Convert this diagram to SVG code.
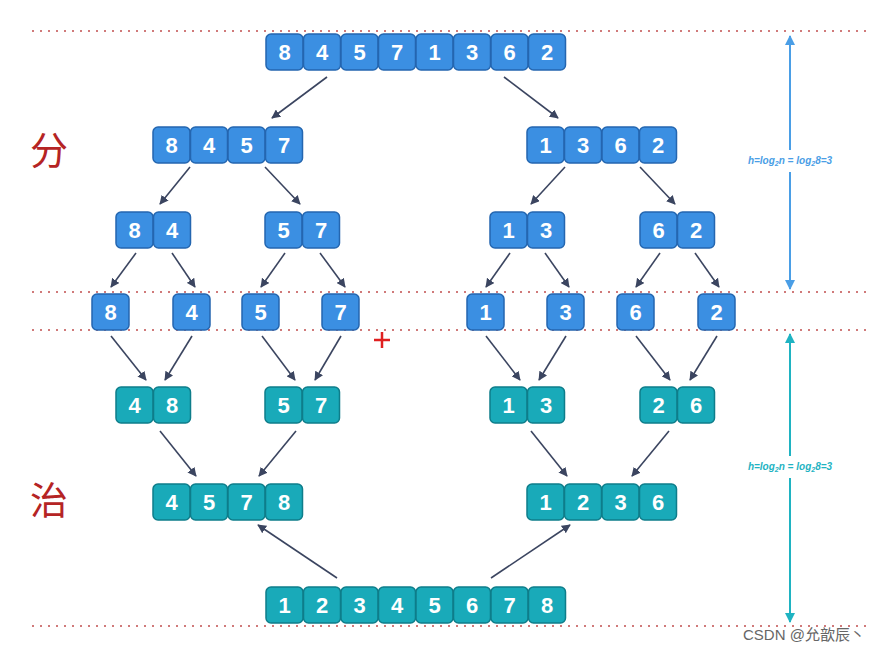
<svg xmlns="http://www.w3.org/2000/svg" width="888" height="651" viewBox="0 0 888 651">
<defs>
<style>
.b{fill:#3b8fe2;stroke:#2466b0;stroke-width:1.5}
.t{fill:#19aab9;stroke:#0e7d8a;stroke-width:1.5}
.n{font-family:"Liberation Sans",Arial,sans-serif;font-weight:bold;font-size:22px;fill:#fff;text-anchor:middle}
.dot{stroke:#d07a7a;stroke-width:2;stroke-dasharray:2 6;fill:none}
.c{stroke:#3b4560;stroke-width:1.6;fill:none;marker-end:url(#ah)}
.zh{font-family:"Noto Sans CJK SC",sans-serif;font-size:38px;fill:#b52424}
.lab{font-family:"Liberation Sans",Arial,sans-serif;font-size:10px;font-style:italic;font-weight:bold;text-anchor:middle}
</style>
<marker id="ah" viewBox="0 0 10 10" refX="9" refY="5" markerWidth="9" markerHeight="9" markerUnits="userSpaceOnUse" orient="auto"><path d="M0,0 L10,5 L0,10 z" fill="#3b4560"/></marker>
<marker id="ahb" viewBox="0 0 10 10" refX="9" refY="5" markerWidth="10" markerHeight="12" markerUnits="userSpaceOnUse" orient="auto"><path d="M0,0 L10,5 L0,10 z" fill="#4a9ee6"/></marker>
<marker id="aht" viewBox="0 0 10 10" refX="9" refY="5" markerWidth="10" markerHeight="12" markerUnits="userSpaceOnUse" orient="auto"><path d="M0,0 L10,5 L0,10 z" fill="#1fb3c2"/></marker>
</defs>
<rect width="888" height="651" fill="#fff"/>
<g id="guides">
<line class="dot" x1="32" y1="31" x2="866" y2="31"/>
<line class="dot" x1="32" y1="292" x2="866" y2="292"/>
<line class="dot" x1="32" y1="330" x2="866" y2="330"/>
<line class="dot" x1="32" y1="626" x2="866" y2="626"/>
</g>
<g id="side">
<text class="zh" x="30" y="164">分</text>
<text class="zh" x="30" y="514">治</text>
<line x1="790" y1="150" x2="790" y2="36" stroke="#4a9ee6" stroke-width="2" marker-end="url(#ahb)"/>
<line x1="790" y1="172" x2="790" y2="289" stroke="#4a9ee6" stroke-width="2" marker-end="url(#ahb)"/>
<text class="lab" x="790" y="164" fill="#4a9ee6">h=log<tspan font-size="7" dy="2">2</tspan><tspan dy="-2">n = log</tspan><tspan font-size="7" dy="2">2</tspan><tspan dy="-2">8=3</tspan></text>
<line x1="790" y1="456" x2="790" y2="334" stroke="#1fb3c2" stroke-width="2" marker-end="url(#aht)"/>
<line x1="790" y1="478" x2="790" y2="622" stroke="#1fb3c2" stroke-width="2" marker-end="url(#aht)"/>
<text class="lab" x="790" y="470" fill="#1fb3c2">h=log<tspan font-size="7" dy="2">2</tspan><tspan dy="-2">n = log</tspan><tspan font-size="7" dy="2">2</tspan><tspan dy="-2">8=3</tspan></text>
<path d="M374,340 h16 M382,332 v16" stroke="#e02020" stroke-width="2.5"/>
</g>
<g id="connectors">
<line class="c" x1="327" y1="77" x2="272" y2="118"/>
<line class="c" x1="504" y1="77" x2="558" y2="118"/>
<line class="c" x1="190" y1="167" x2="160" y2="204"/>
<line class="c" x1="265" y1="167" x2="300" y2="204"/>
<line class="c" x1="565" y1="167" x2="531" y2="204"/>
<line class="c" x1="640" y1="167" x2="675" y2="204"/>
<line class="c" x1="136" y1="253" x2="111" y2="287"/>
<line class="c" x1="172" y1="253" x2="195" y2="287"/>
<line class="c" x1="285" y1="253" x2="261" y2="287"/>
<line class="c" x1="320" y1="253" x2="345" y2="287"/>
<line class="c" x1="510" y1="253" x2="486" y2="287"/>
<line class="c" x1="545" y1="253" x2="569" y2="287"/>
<line class="c" x1="660" y1="253" x2="636" y2="287"/>
<line class="c" x1="695" y1="253" x2="719" y2="287"/>
<line class="c" x1="111" y1="336" x2="146" y2="380"/>
<line class="c" x1="192" y1="336" x2="165" y2="380"/>
<line class="c" x1="262" y1="336" x2="295" y2="380"/>
<line class="c" x1="341" y1="336" x2="315" y2="380"/>
<line class="c" x1="486" y1="336" x2="520" y2="380"/>
<line class="c" x1="566" y1="336" x2="539" y2="380"/>
<line class="c" x1="636" y1="336" x2="670" y2="380"/>
<line class="c" x1="717" y1="336" x2="690" y2="380"/>
<line class="c" x1="160" y1="431" x2="196" y2="476"/>
<line class="c" x1="296" y1="431" x2="259" y2="476"/>
<line class="c" x1="531" y1="431" x2="567" y2="476"/>
<line class="c" x1="669" y1="431" x2="632" y2="476"/>
<line class="c" x1="337" y1="578" x2="258" y2="525"/>
<line class="c" x1="491" y1="578" x2="570" y2="525"/>
</g>
<g id="n-84571362">
<rect class="b" x="266" y="34" width="37" height="36" rx="5"/><text class="n" x="284.5" y="60">8</text>
<rect class="b" x="303.5" y="34" width="37" height="36" rx="5"/><text class="n" x="322" y="60">4</text>
<rect class="b" x="341" y="34" width="37" height="36" rx="5"/><text class="n" x="359.5" y="60">5</text>
<rect class="b" x="378.5" y="34" width="37" height="36" rx="5"/><text class="n" x="397" y="60">7</text>
<rect class="b" x="416" y="34" width="37" height="36" rx="5"/><text class="n" x="434.5" y="60">1</text>
<rect class="b" x="453.5" y="34" width="37" height="36" rx="5"/><text class="n" x="472" y="60">3</text>
<rect class="b" x="491" y="34" width="37" height="36" rx="5"/><text class="n" x="509.5" y="60">6</text>
<rect class="b" x="528.5" y="34" width="37" height="36" rx="5"/><text class="n" x="547" y="60">2</text>
</g>
<g id="n-8457">
<rect class="b" x="153" y="127" width="37" height="36" rx="5"/><text class="n" x="171.5" y="153">8</text>
<rect class="b" x="190.5" y="127" width="37" height="36" rx="5"/><text class="n" x="209" y="153">4</text>
<rect class="b" x="228" y="127" width="37" height="36" rx="5"/><text class="n" x="246.5" y="153">5</text>
<rect class="b" x="265.5" y="127" width="37" height="36" rx="5"/><text class="n" x="284" y="153">7</text>
</g>
<g id="n-1362">
<rect class="b" x="527" y="127" width="37" height="36" rx="5"/><text class="n" x="545.5" y="153">1</text>
<rect class="b" x="564.5" y="127" width="37" height="36" rx="5"/><text class="n" x="583" y="153">3</text>
<rect class="b" x="602" y="127" width="37" height="36" rx="5"/><text class="n" x="620.5" y="153">6</text>
<rect class="b" x="639.5" y="127" width="37" height="36" rx="5"/><text class="n" x="658" y="153">2</text>
</g>
<g id="n-84">
<rect class="b" x="116" y="212" width="37" height="36" rx="5"/><text class="n" x="134.5" y="238">8</text>
<rect class="b" x="153.5" y="212" width="37" height="36" rx="5"/><text class="n" x="172" y="238">4</text>
</g>
<g id="n-57a">
<rect class="b" x="265" y="212" width="37" height="36" rx="5"/><text class="n" x="283.5" y="238">5</text>
<rect class="b" x="302.5" y="212" width="37" height="36" rx="5"/><text class="n" x="321" y="238">7</text>
</g>
<g id="n-13a">
<rect class="b" x="490" y="212" width="37" height="36" rx="5"/><text class="n" x="508.5" y="238">1</text>
<rect class="b" x="527.5" y="212" width="37" height="36" rx="5"/><text class="n" x="546" y="238">3</text>
</g>
<g id="n-62">
<rect class="b" x="640" y="212" width="37" height="36" rx="5"/><text class="n" x="658.5" y="238">6</text>
<rect class="b" x="677.5" y="212" width="37" height="36" rx="5"/><text class="n" x="696" y="238">2</text>
</g>
<g id="n-s8"><rect class="b" x="92" y="294" width="37" height="36" rx="5"/><text class="n" x="110.5" y="320">8</text></g>
<g id="n-s4"><rect class="b" x="173" y="294" width="37" height="36" rx="5"/><text class="n" x="191.5" y="320">4</text></g>
<g id="n-s5"><rect class="b" x="242" y="294" width="37" height="36" rx="5"/><text class="n" x="260.5" y="320">5</text></g>
<g id="n-s7"><rect class="b" x="322" y="294" width="37" height="36" rx="5"/><text class="n" x="340.5" y="320">7</text></g>
<g id="n-s1"><rect class="b" x="467" y="294" width="37" height="36" rx="5"/><text class="n" x="485.5" y="320">1</text></g>
<g id="n-s3"><rect class="b" x="547" y="294" width="37" height="36" rx="5"/><text class="n" x="565.5" y="320">3</text></g>
<g id="n-s6"><rect class="b" x="617" y="294" width="37" height="36" rx="5"/><text class="n" x="635.5" y="320">6</text></g>
<g id="n-s2"><rect class="b" x="698" y="294" width="37" height="36" rx="5"/><text class="n" x="716.5" y="320">2</text></g>
<g id="n-48">
<rect class="t" x="116" y="387" width="37" height="36" rx="5"/><text class="n" x="134.5" y="413">4</text>
<rect class="t" x="153.5" y="387" width="37" height="36" rx="5"/><text class="n" x="172" y="413">8</text>
</g>
<g id="n-57b">
<rect class="t" x="265" y="387" width="37" height="36" rx="5"/><text class="n" x="283.5" y="413">5</text>
<rect class="t" x="302.5" y="387" width="37" height="36" rx="5"/><text class="n" x="321" y="413">7</text>
</g>
<g id="n-13b">
<rect class="t" x="490" y="387" width="37" height="36" rx="5"/><text class="n" x="508.5" y="413">1</text>
<rect class="t" x="527.5" y="387" width="37" height="36" rx="5"/><text class="n" x="546" y="413">3</text>
</g>
<g id="n-26">
<rect class="t" x="640" y="387" width="37" height="36" rx="5"/><text class="n" x="658.5" y="413">2</text>
<rect class="t" x="677.5" y="387" width="37" height="36" rx="5"/><text class="n" x="696" y="413">6</text>
</g>
<g id="n-4578">
<rect class="t" x="153" y="484" width="37" height="36" rx="5"/><text class="n" x="171.5" y="510">4</text>
<rect class="t" x="190.5" y="484" width="37" height="36" rx="5"/><text class="n" x="209" y="510">5</text>
<rect class="t" x="228" y="484" width="37" height="36" rx="5"/><text class="n" x="246.5" y="510">7</text>
<rect class="t" x="265.5" y="484" width="37" height="36" rx="5"/><text class="n" x="284" y="510">8</text>
</g>
<g id="n-1236">
<rect class="t" x="527" y="484" width="37" height="36" rx="5"/><text class="n" x="545.5" y="510">1</text>
<rect class="t" x="564.5" y="484" width="37" height="36" rx="5"/><text class="n" x="583" y="510">2</text>
<rect class="t" x="602" y="484" width="37" height="36" rx="5"/><text class="n" x="620.5" y="510">3</text>
<rect class="t" x="639.5" y="484" width="37" height="36" rx="5"/><text class="n" x="658" y="510">6</text>
</g>
<g id="n-12345678">
<rect class="t" x="266" y="587" width="37" height="36" rx="5"/><text class="n" x="284.5" y="613">1</text>
<rect class="t" x="303.5" y="587" width="37" height="36" rx="5"/><text class="n" x="322" y="613">2</text>
<rect class="t" x="341" y="587" width="37" height="36" rx="5"/><text class="n" x="359.5" y="613">3</text>
<rect class="t" x="378.5" y="587" width="37" height="36" rx="5"/><text class="n" x="397" y="613">4</text>
<rect class="t" x="416" y="587" width="37" height="36" rx="5"/><text class="n" x="434.5" y="613">5</text>
<rect class="t" x="453.5" y="587" width="37" height="36" rx="5"/><text class="n" x="472" y="613">6</text>
<rect class="t" x="491" y="587" width="37" height="36" rx="5"/><text class="n" x="509.5" y="613">7</text>
<rect class="t" x="528.5" y="587" width="37" height="36" rx="5"/><text class="n" x="547" y="613">8</text>
</g>
<text x="743" y="640" font-family="'Liberation Sans','Noto Sans CJK SC',sans-serif" font-size="15" fill="#666">CSDN @允歆辰丶</text>
</svg>
